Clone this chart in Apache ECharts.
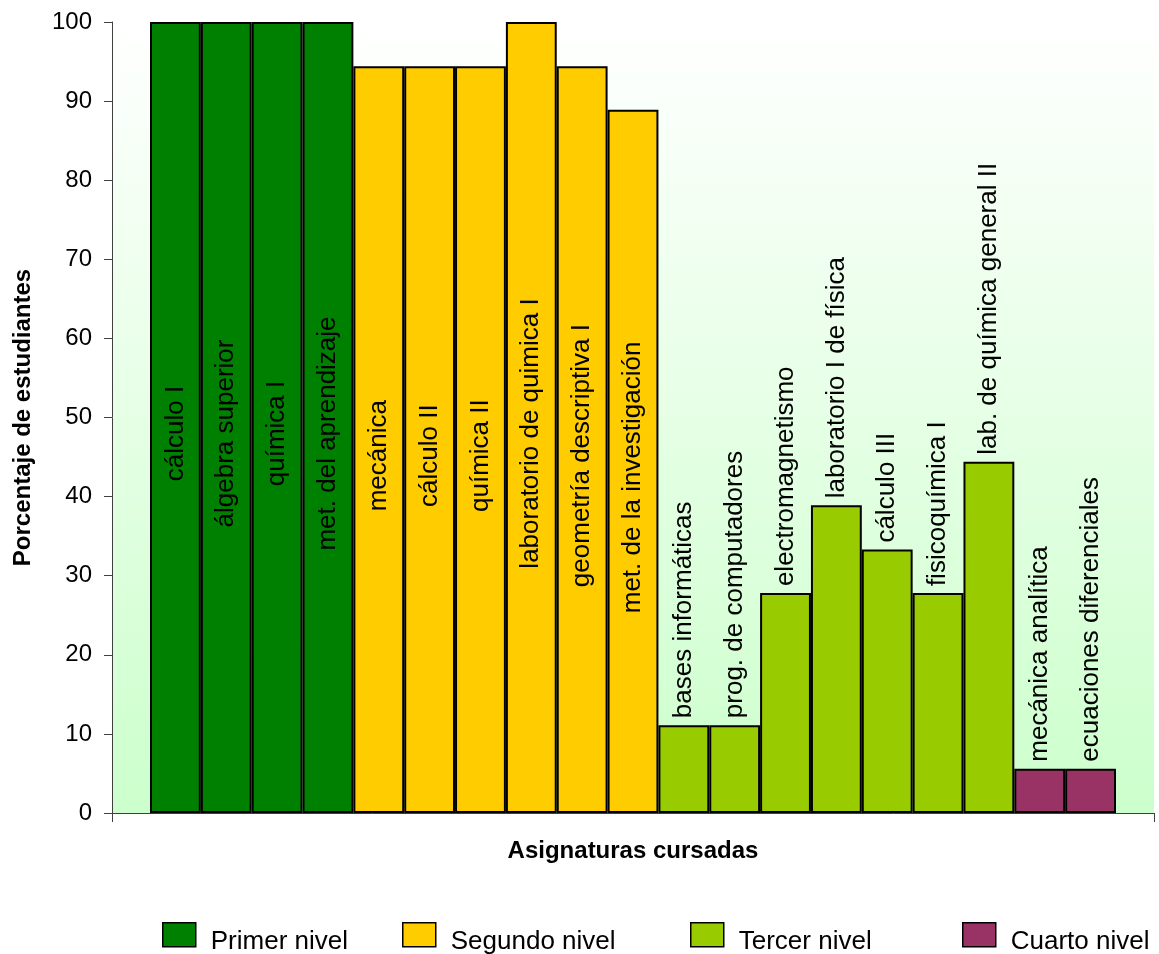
<!DOCTYPE html>
<html>
<head>
<meta charset="utf-8">
<title>Porcentaje de estudiantes por asignatura</title>
<script src="https://cdn.jsdelivr.net/npm/echarts@6.0.0/dist/echarts.min.js"></script>
<style>
  html, body { margin: 0; padding: 0; background: #fff; }
  #main { width: 1159px; height: 954px; }
</style>
</head>
<body>
<div id="main"></div>
<script>
// asignaturas en el orden del eje x
var asignaturas = [
  'cálculo I', 'álgebra superior', 'química I', 'met. del aprendizaje',
  'mecánica', 'cálculo II', 'química II', 'laboratorio de quimica I',
  'geometría descriptiva I', 'met. de la investigación',
  'bases informáticas', 'prog. de computadores', 'electromagnetismo',
  'laboratorio I de física', 'cálculo III', 'fisicoquímica I',
  'lab. de química general II',
  'mecánica analítica', 'ecuaciones diferenciales'
];
// porcentaje de estudiantes que cursaron cada asignatura
var porcentajes = [
  100, 100, 100, 100,
  94.4, 94.4, 94.4, 100, 94.4, 88.9,
  11.1, 11.1, 27.8, 38.9, 33.3, 27.8, 44.4,
  5.6, 5.6
];
// nivel de cada asignatura (indice en niveles)
var nivelDe = [0, 0, 0, 0, 1, 1, 1, 1, 1, 1, 2, 2, 2, 2, 2, 2, 2, 3, 3];
var niveles = ['Primer nivel', 'Segundo nivel', 'Tercer nivel', 'Cuarto nivel'];
var colores = ['#008000', '#ffcc00', '#99cc00', '#993366'];
var ticksY = [0, 10, 20, 30, 40, 50, 60, 70, 80, 90, 100];

var FONT = '"Liberation Sans", Arial, sans-serif';

function etiqueta(v) {
  // barras altas: texto dentro; barras bajas: texto encima
  if (v >= 50) {
    // el offset va en el sistema girado: x negativo = hacia abajo
    return { show: true, position: 'inside', rotate: 90, offset: [-16, 0] };
  }
  return { show: true, position: 'top', rotate: 90, align: 'left', verticalAlign: 'middle', distance: 7 };
}

var series = niveles.map(function (nombre, n) {
  return {
    name: nombre,
    type: 'bar',
    xAxisIndex: 1,
    yAxisIndex: 1,
    stack: 'todo',
    barWidth: '100%',
    itemStyle: { color: colores[n], borderColor: '#000', borderWidth: 2 },
    label: {
      color: '#000', fontFamily: FONT, fontSize: 26,
      formatter: function (p) { return p.name; }
    },
    data: porcentajes.map(function (v, i) {
      if (nivelDe[i] !== n) return null;
      return { value: v, label: etiqueta(v) };
    })
  };
});

var leyendaX = [157, 397, 685, 957];

var chart = echarts.init(document.getElementById('main'));
chart.setOption({
  animation: false,
  backgroundColor: '#fff',
  textStyle: { fontFamily: FONT },
  grid: [
    {
      left: 112, right: 5, top: 22, bottom: 141,
      show: true, borderWidth: 0,
      backgroundColor: {
        type: 'linear', x: 0, y: 0, x2: 0, y2: 1,
        colorStops: [{ offset: 0, color: '#ffffff' }, { offset: 1, color: '#ccffcc' }]
      }
    },
    { left: 150, right: 43, top: 22, bottom: 141 }
  ],
  legend: niveles.map(function (nombre, n) {
    return {
      data: [{ name: nombre, icon: 'rect' }],
      left: leyendaX[n],
      top: 917,
      itemWidth: 33,
      itemHeight: 24,
      selectedMode: false,
      itemStyle: { borderColor: '#000', borderWidth: 1.5 },
      formatter: '{t|{name}}',
      textStyle: {
        color: '#000', fontFamily: FONT, fontSize: 26, padding: [0, 0, 0, 10],
        rich: { t: { color: '#000', fontFamily: FONT, fontSize: 26, padding: [14, 0, 0, 0] } }
      }
    };
  }),
  xAxis: [
    {
      type: 'category',
      gridIndex: 0,
      data: [''],
      boundaryGap: true,
      axisLine: { lineStyle: { color: '#404040', width: 1 } },
      axisTick: { show: true, length: 9, lineStyle: { color: '#404040' } },
      axisLabel: { show: false },
      name: 'Asignaturas cursadas',
      nameLocation: 'middle',
      nameGap: 26,
      nameTextStyle: { color: '#000', fontWeight: 'bold', fontSize: 24, fontFamily: FONT }
    },
    {
      type: 'category',
      gridIndex: 1,
      data: asignaturas,
      show: false
    }
  ],
  yAxis: [
    {
      type: 'value',
      gridIndex: 0,
      min: ticksY[0],
      max: ticksY[ticksY.length - 1],
      interval: 10,
      axisLine: { show: true, lineStyle: { color: '#404040', width: 1 } },
      axisTick: { show: true, length: 8, lineStyle: { color: '#404040' } },
      axisLabel: { color: '#000', fontSize: 24, fontFamily: FONT, margin: 20 },
      splitLine: { show: false },
      name: 'Porcentaje de estudiantes',
      nameLocation: 'middle',
      nameGap: 77,
      nameTextStyle: { color: '#000', fontWeight: 'bold', fontSize: 24, fontFamily: FONT }
    },
    {
      type: 'value',
      gridIndex: 1,
      min: 0,
      max: 100,
      show: false
    }
  ],
  series: series
});
</script>
</body>
</html>
